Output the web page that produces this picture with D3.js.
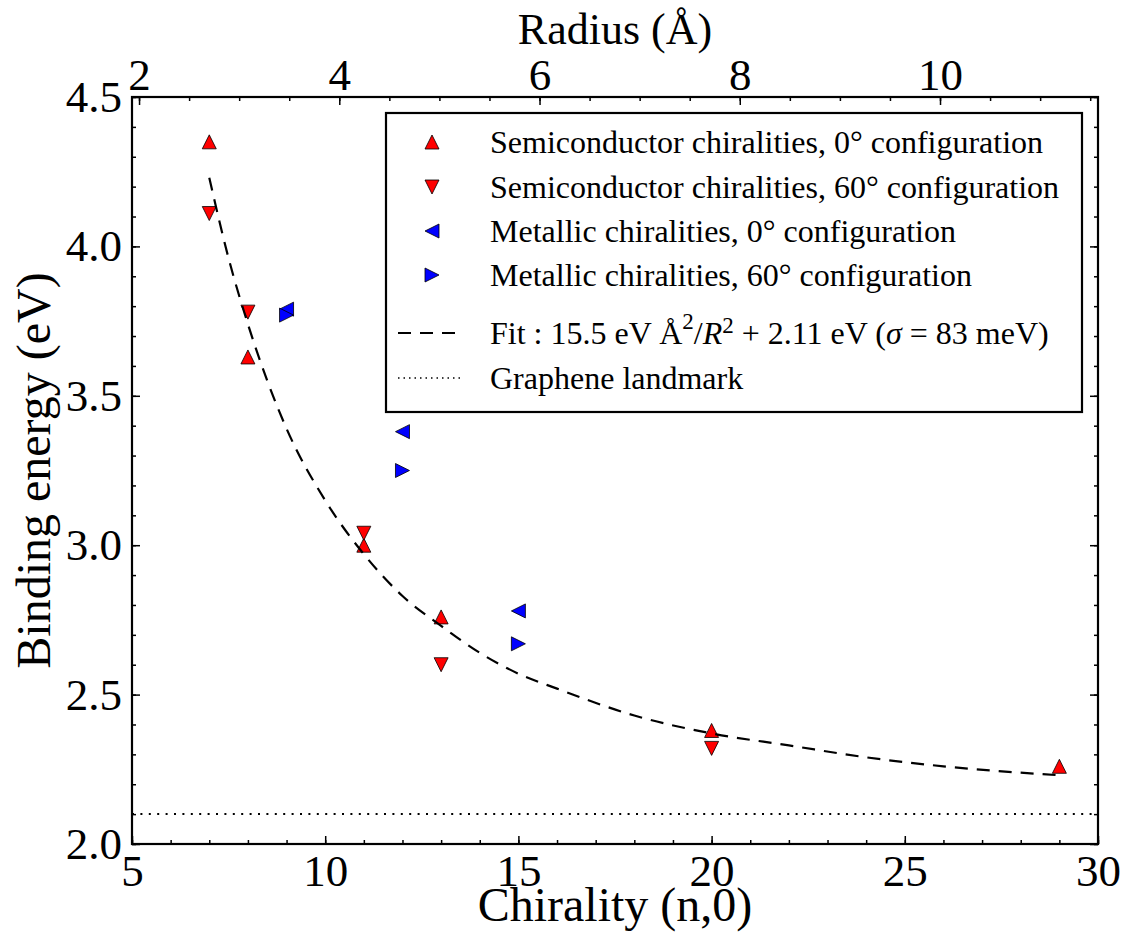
<!DOCTYPE html>
<html>
<head>
<meta charset="utf-8">
<script src="https://cdn.jsdelivr.net/npm/d3@7"></script>
<style>
  body { margin: 0; background: #fff; }
  svg { display: block; }
</style>
</head>
<body>
<div id="chart"></div>
<script>
// chirality index n for each series, with binding energies in eV
var semi0N = [7, 8, 11, 13, 20, 29];
var semi0E = [4.35, 3.63, 3.00, 2.76, 2.38, 2.26];

var semi60N = [7, 8, 11, 13, 20];
var semi60E = [4.11, 3.78, 3.04, 2.60, 2.32];

var metal0N = [9, 12, 15];
var metal0E = [3.79, 3.38, 2.78];

var metal60N = [9, 12, 15];
var metal60E = [3.77, 3.25, 2.67];

// dashed fit curve
var fitN = [7, 7.5, 8, 9, 10, 11, 12, 13, 14, 15, 16, 18, 20, 22, 24, 26, 29];
var fitE = [4.23, 3.96, 3.74, 3.39, 3.15, 2.97, 2.83, 2.73, 2.64, 2.57, 2.52, 2.43, 2.37, 2.33, 2.29, 2.26, 2.23];

var grapheneE = 2.10;

var xTicks = [5, 10, 15, 20, 25, 30];
var yTicks = [2.0, 2.5, 3.0, 3.5, 4.0, 4.5];
var rTicks = [2, 4, 6, 8, 10];

var legendLabels = [
    "Semiconductor chiralities, 0\u00b0 configuration",
    "Semiconductor chiralities, 60\u00b0 configuration",
    "Metallic chiralities, 0\u00b0 configuration",
    "Metallic chiralities, 60\u00b0 configuration"
];

function init(){
    var W = 1133, H = 940;
    var left = 132, right = 1098, top = 97, bottom = 844;
    var font = "'Liberation Serif', 'Times New Roman', serif";

    // radius of an (n,0) tube: R = n * a / (2 pi), a = 1.40 * sqrt(3)
    var perN = 1.40 * Math.sqrt(3) / (2 * Math.PI);

    var xScale = d3.scaleLinear().domain([5, 30]).range([left, right]);
    var yScale = d3.scaleLinear().domain([2.0, 4.5]).range([bottom, top]);
    var rScale = d3.scaleLinear().domain([5 * perN, 30 * perN]).range([left, right]);

    var svg = d3.select('#chart')
                .append('svg')
                .attr('width', W)
                .attr('height', H);

    // triangle marker pointing up, turned by rot degrees
    function tri(rot){
        return {
            draw: function(ctx, size){
                var r = Math.sqrt(size) / 2;
                var pts = [[0, -r], [-r, r], [r, r]];
                var a = rot * Math.PI / 180;
                pts.forEach(function(p, i){
                    var x = p[0] * Math.cos(a) - p[1] * Math.sin(a);
                    var y = p[0] * Math.sin(a) + p[1] * Math.cos(a);
                    if (i === 0) ctx.moveTo(x, y); else ctx.lineTo(x, y);
                });
                ctx.closePath();
            }
        };
    }

    var series = [
        {n: semi0N, e: semi0E, rot: 0, color: '#ff0000'},
        {n: semi60N, e: semi60E, rot: 180, color: '#ff0000'},
        {n: metal0N, e: metal0E, rot: -90, color: '#0000ff'},
        {n: metal60N, e: metal60E, rot: 90, color: '#0000ff'}
    ];
    var markSize = 14 * 14;

    // axes: inward ticks, minor then major
    function styleAxis(g){
        g.select('.domain').remove();
        g.selectAll('line').attr('stroke', '#000').attr('stroke-width', 1.5);
        g.selectAll('text')
            .attr('font-family', font)
            .attr('font-size', '45px')
            .attr('fill', '#000');
    }

    svg.append('g')
        .attr('transform', 'translate(0,' + bottom + ')')
        .call(d3.axisBottom(xScale).tickValues(d3.range(5, 31, 1)).tickSize(-4).tickFormat(''))
        .call(styleAxis);
    svg.append('g')
        .attr('transform', 'translate(0,' + bottom + ')')
        .call(d3.axisBottom(xScale).tickValues(xTicks).tickSize(-8).tickPadding(10).tickFormat(d3.format('d')))
        .call(styleAxis);

    svg.append('g')
        .attr('transform', 'translate(0,' + top + ')')
        .call(d3.axisTop(rScale).tickValues(d3.range(2, 11.51, 0.5)).tickSize(-4).tickFormat(''))
        .call(styleAxis);
    svg.append('g')
        .attr('transform', 'translate(0,' + top + ')')
        .call(d3.axisTop(rScale).tickValues(rTicks).tickSize(-8).tickPadding(7).tickFormat(d3.format('d')))
        .call(styleAxis);

    var yMinor = d3.range(20, 46, 1).map(function(v){ return v / 10; });
    svg.append('g')
        .attr('transform', 'translate(' + left + ',0)')
        .call(d3.axisLeft(yScale).tickValues(yMinor).tickSize(-4).tickFormat(''))
        .call(styleAxis);
    svg.append('g')
        .attr('transform', 'translate(' + left + ',0)')
        .call(d3.axisLeft(yScale).tickValues(yTicks).tickSize(-8).tickPadding(10).tickFormat(d3.format('.1f')))
        .call(styleAxis);

    svg.append('g')
        .attr('transform', 'translate(' + right + ',0)')
        .call(d3.axisRight(yScale).tickValues(yMinor).tickSize(-4).tickFormat(''))
        .call(styleAxis);
    svg.append('g')
        .attr('transform', 'translate(' + right + ',0)')
        .call(d3.axisRight(yScale).tickValues(yTicks).tickSize(-8).tickFormat(''))
        .call(styleAxis);

    // data markers
    series.forEach(function(s){
        svg.append('g')
            .selectAll('path')
            .data(s.n.map(function(n, i){ return [n, s.e[i]]; }))
            .enter()
            .append('path')
            .attr('transform', function(d){
                return 'translate(' + xScale(d[0]) + ',' + yScale(d[1]) + ')';
            })
            .attr('d', d3.symbol().type(tri(s.rot)).size(markSize))
            .attr('fill', s.color)
            .attr('stroke', '#000')
            .attr('stroke-width', 0.8);
    });

    // fit curve
    var line = d3.line()
                .x(function(d){ return xScale(d[0]); })
                .y(function(d){ return yScale(d[1]); })
                .curve(d3.curveMonotoneX);

    svg.append('path')
        .datum(fitN.map(function(n, i){ return [n, fitE[i]]; }))
        .attr('d', line)
        .attr('fill', 'none')
        .attr('stroke', '#000')
        .attr('stroke-width', 2.2)
        .attr('stroke-dasharray', '13,9');

    // graphene landmark
    svg.append('line')
        .attr('x1', xScale(5))
        .attr('x2', xScale(30))
        .attr('y1', yScale(grapheneE))
        .attr('y2', yScale(grapheneE))
        .attr('stroke', '#000')
        .attr('stroke-width', 2)
        .attr('stroke-dasharray', '2,6.4');

    // frame
    svg.append('rect')
        .attr('x', left)
        .attr('y', top)
        .attr('width', right - left)
        .attr('height', bottom - top)
        .attr('fill', 'none')
        .attr('stroke', '#000')
        .attr('stroke-width', 2.2);

    // axis titles
    svg.append('text')
        .attr('x', (left + right) / 2)
        .attr('y', 921)
        .attr('text-anchor', 'middle')
        .attr('font-family', font)
        .attr('font-size', '48px')
        .text('Chirality (n,0)');

    svg.append('text')
        .attr('x', (left + right) / 2)
        .attr('y', 44)
        .attr('text-anchor', 'middle')
        .attr('font-family', font)
        .attr('font-size', '44px')
        .text('Radius (\u00c5)');

    svg.append('text')
        .attr('transform', 'translate(50,' + (top + bottom) / 2 + ') rotate(-90)')
        .attr('text-anchor', 'middle')
        .attr('font-family', font)
        .attr('font-size', '48px')
        .text('Binding energy (eV)');

    // legend
    var lg = svg.append('g');
    lg.append('rect')
        .attr('x', 386)
        .attr('y', 113)
        .attr('width', 696)
        .attr('height', 299)
        .attr('fill', '#fff')
        .attr('stroke', '#000')
        .attr('stroke-width', 2.2);

    var rowY = [142, 187, 231, 275, 333, 378];
    var textX = 490, markX = 432;
    var lgFont = '32px';

    series.forEach(function(s, i){
        lg.append('path')
            .attr('transform', 'translate(' + markX + ',' + rowY[i] + ')')
            .attr('d', d3.symbol().type(tri(s.rot)).size(markSize))
            .attr('fill', s.color)
            .attr('stroke', '#000')
            .attr('stroke-width', 0.8);
        lg.append('text')
            .attr('x', textX)
            .attr('y', rowY[i])
            .attr('dy', '0.35em')
            .attr('font-family', font)
            .attr('font-size', lgFont)
            .text(legendLabels[i]);
    });

    lg.append('line')
        .attr('x1', 398).attr('x2', 463)
        .attr('y1', rowY[4]).attr('y2', rowY[4])
        .attr('stroke', '#000')
        .attr('stroke-width', 2.2)
        .attr('stroke-dasharray', '13,9');

    var ft = lg.append('text')
        .attr('x', textX)
        .attr('y', rowY[4])
        .attr('dy', '0.35em')
        .attr('font-family', font)
        .attr('font-size', lgFont);
    ft.append('tspan').text('Fit : 15.5 eV \u00c5');
    ft.append('tspan').attr('font-size', '23px').attr('dy', '-15').text('2');
    ft.append('tspan').attr('dy', '15').text('/');
    ft.append('tspan').attr('font-style', 'italic').text('R');
    ft.append('tspan').attr('font-size', '23px').attr('dy', '-11').text('2');
    ft.append('tspan').attr('dy', '11').text(' + 2.11 eV (');
    ft.append('tspan').attr('font-style', 'italic').text('\u03c3');
    ft.append('tspan').text(' = 83 meV)');

    lg.append('line')
        .attr('x1', 398).attr('x2', 463)
        .attr('y1', rowY[5]).attr('y2', rowY[5])
        .attr('stroke', '#000')
        .attr('stroke-width', 1.5)
        .attr('stroke-dasharray', '1.5,4');

    lg.append('text')
        .attr('x', textX)
        .attr('y', rowY[5])
        .attr('dy', '0.35em')
        .attr('font-family', font)
        .attr('font-size', lgFont)
        .text('Graphene landmark');
}

window.onload = init;
</script>
</body>
</html>
